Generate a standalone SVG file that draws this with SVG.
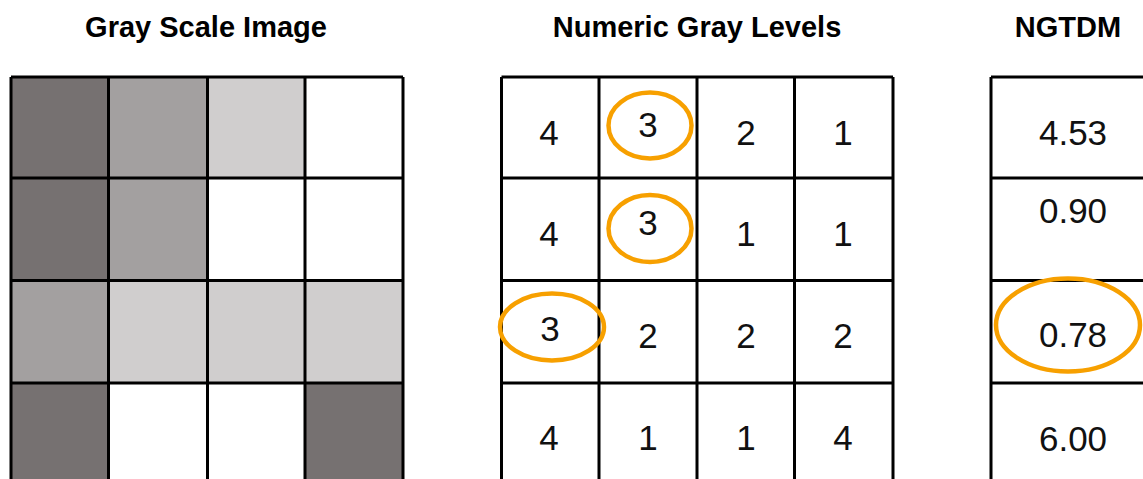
<svg xmlns="http://www.w3.org/2000/svg" width="1143" height="479" viewBox="0 0 1143 479">
  <style>
    .title { font-family: "Liberation Sans", Arial, sans-serif; font-weight: bold; font-size: 29px; fill: #000; text-anchor: middle; }
    .num { font-family: "Liberation Sans", Arial, sans-serif; font-size: 35px; fill: #111; text-anchor: middle; }
    .grid { fill: none; stroke: #000; stroke-width: 3; }
    .g1 { fill: #767171; }
    .g2 { fill: #A3A0A0; }
    .g3 { fill: #D0CECE; }
    .mark { fill: none; stroke: #F7A000; stroke-width: 4.5; }
  </style>
  <rect width="1143" height="479" fill="#fff"/>

  <!-- Titles -->
  <text class="title" x="206" y="37">Gray Scale Image</text>
  <text class="title" x="697" y="37">Numeric Gray Levels</text>
  <text class="title" x="1068" y="37">NGTDM</text>

  <!-- Gray scale image: shaded 4x4 grid -->
  <g id="gray-image">
    <rect class="g1" x="11" y="77" width="97.5" height="101"/>
    <rect class="g2" x="108.5" y="77" width="99" height="101"/>
    <rect class="g3" x="207.5" y="77" width="97.5" height="101"/>
    <rect class="g1" x="11" y="178" width="97.5" height="102.5"/>
    <rect class="g2" x="108.5" y="178" width="99" height="102.5"/>
    <rect class="g2" x="11" y="280.5" width="97.5" height="102.5"/>
    <rect class="g3" x="108.5" y="280.5" width="99" height="102.5"/>
    <rect class="g3" x="207.5" y="280.5" width="97.5" height="102.5"/>
    <rect class="g3" x="305" y="280.5" width="98" height="102.5"/>
    <rect class="g1" x="11" y="383" width="97.5" height="100"/>
    <rect class="g1" x="305" y="383" width="98" height="100"/>
    <path class="grid" d="M11 77H403M11 178H403M11 280.5H403M11 383H403M11 77V483M108.5 77V483M207.5 77V483M305 77V483M403 77V483"/>
  </g>

  <!-- Numeric gray levels -->
  <g id="gray-levels">
    <path class="grid" d="M501.5 77H893M501.5 178H893M501.5 280.5H893M501.5 383H893M501.5 77V483M599 77V483M697 77V483M794.5 77V483M893 77V483"/>
    <text class="num" x="549" y="145">4</text>
    <text class="num" x="648" y="137">3</text>
    <text class="num" x="746" y="145">2</text>
    <text class="num" x="843" y="145">1</text>
    <text class="num" x="549" y="246">4</text>
    <text class="num" x="648" y="235">3</text>
    <text class="num" x="746" y="246">1</text>
    <text class="num" x="843" y="246">1</text>
    <text class="num" x="550" y="341">3</text>
    <text class="num" x="648" y="348">2</text>
    <text class="num" x="746" y="348">2</text>
    <text class="num" x="843" y="348">2</text>
    <text class="num" x="549" y="450">4</text>
    <text class="num" x="648" y="450">1</text>
    <text class="num" x="746" y="450">1</text>
    <text class="num" x="843" y="450">4</text>
  </g>

  <!-- NGTDM column -->
  <g id="ngtdm">
    <path class="grid" d="M991 77H1150M991 178H1150M991 280.5H1150M991 383H1150M991 77V483"/>
    <text class="num" x="1073" y="145">4.53</text>
    <text class="num" x="1073" y="223">0.90</text>
    <text class="num" x="1073" y="347">0.78</text>
    <text class="num" x="1073" y="451">6.00</text>
  </g>

  <!-- Highlight rings -->
  <g id="highlights">
    <ellipse class="mark" cx="650" cy="125.5" rx="41.5" ry="33"/>
    <ellipse class="mark" cx="650" cy="228.5" rx="41.5" ry="33.5"/>
    <ellipse class="mark" cx="552" cy="327" rx="52" ry="33.5"/>
    <ellipse class="mark" cx="1068" cy="325" rx="72" ry="46.5"/>
  </g>
</svg>
